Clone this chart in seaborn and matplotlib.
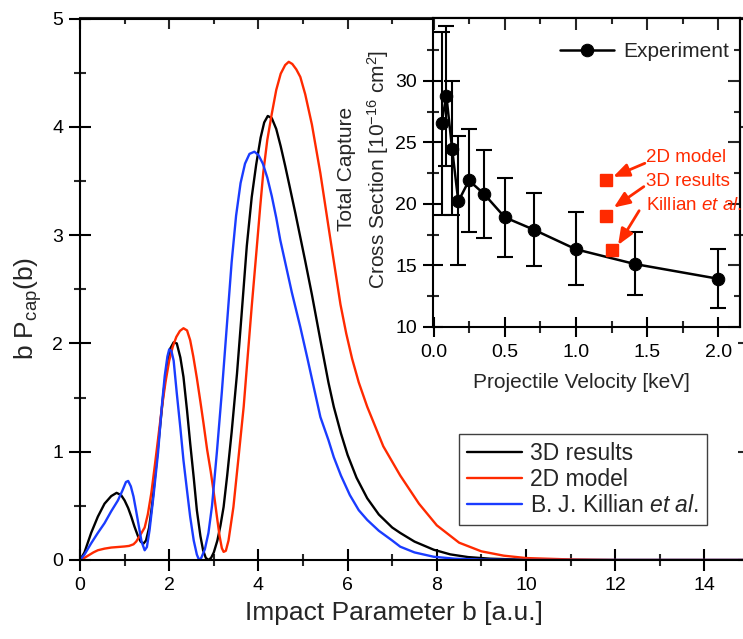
import numpy as np
import pandas as pd
import matplotlib
matplotlib.use("Agg")
import matplotlib.pyplot as plt
import seaborn as sns
from matplotlib.ticker import MultipleLocator, FixedLocator, FormatStrFormatter

sns.set_theme(style="ticks")
plt.rcParams['font.family'] = ['Liberation Sans', 'DejaVu Sans']
plt.rcParams['mathtext.fontset'] = 'custom'
plt.rcParams['mathtext.rm'] = 'Liberation Sans'
plt.rcParams['mathtext.it'] = 'Liberation Sans:italic'
plt.rcParams['mathtext.bf'] = 'Liberation Sans:bold'

# ---------------- main panel data: b P_cap(b) ----------------
b_3d = [0, 0.1, 0.25, 0.4, 0.55, 0.7, 0.82, 0.92, 1.0, 1.08, 1.15, 1.22, 1.30, 1.36, 1.42,
        1.48, 1.55, 1.62, 1.72, 1.8, 1.87, 1.95, 2.02, 2.1, 2.17, 2.25, 2.32, 2.4, 2.47,
        2.55, 2.62, 2.7, 2.76, 2.82, 2.88, 2.94, 3.0, 3.08, 3.15, 3.22, 3.3, 3.4, 3.52,
        3.62, 3.74, 3.85, 3.95, 4.05, 4.13, 4.21, 4.3, 4.4, 4.5, 4.6, 4.7, 4.83, 4.94,
        5.05, 5.2, 5.39, 5.57, 5.69, 5.85, 6.0, 6.2, 6.44, 6.7, 7.0, 7.18, 7.5, 7.93,
        8.3, 8.7, 9.2, 9.8, 10.5, 11.5, 13, 15]
p_3d = [0, 0.07, 0.25, 0.40, 0.52, 0.59, 0.62, 0.60, 0.55, 0.48, 0.40, 0.31, 0.22, 0.17, 0.15,
        0.18, 0.30, 0.52, 0.92, 1.25, 1.54, 1.80, 1.95, 2.01, 2.00, 1.87, 1.69, 1.38, 1.08,
        0.76, 0.46, 0.22, 0.09, 0.02, 0.0, 0.02, 0.07, 0.18, 0.32, 0.49, 0.78, 1.18, 1.72,
        2.25, 2.90, 3.35, 3.65, 3.90, 4.04, 4.10, 4.08, 3.98, 3.82, 3.64, 3.45, 3.20, 2.98,
        2.76, 2.45, 2.03, 1.64, 1.415, 1.17, 0.97, 0.76, 0.57, 0.42, 0.30, 0.25, 0.17, 0.095,
        0.052, 0.027, 0.012, 0.005, 0.002, 0.0, 0.0, 0.0]

b_2d = [0, 0.1, 0.2, 0.3, 0.4, 0.55, 0.7, 0.85, 1.0, 1.1, 1.2, 1.26, 1.32, 1.38, 1.45, 1.52,
        1.6, 1.68, 1.76, 1.84, 1.92, 2.0, 2.08, 2.16, 2.24, 2.32, 2.4, 2.47, 2.54, 2.62, 2.7,
        2.77, 2.85, 2.93, 3.0, 3.07, 3.13, 3.18, 3.22, 3.27, 3.33, 3.44, 3.55, 3.67, 3.76,
        3.85, 3.95, 4.04, 4.11, 4.2, 4.3, 4.4, 4.5, 4.6, 4.68, 4.76, 4.85, 4.94, 5.05, 5.2,
        5.39, 5.6, 5.84, 5.97, 6.1, 6.25, 6.44, 6.8, 7.18, 7.6, 8.0, 8.5, 9.0, 9.5, 10.0,
        11, 12, 15]
p_2d = [0, 0.02, 0.045, 0.07, 0.09, 0.105, 0.115, 0.12, 0.125, 0.13, 0.145, 0.17, 0.21, 0.25,
        0.30, 0.42, 0.62, 0.88, 1.15, 1.42, 1.65, 1.84, 1.97, 2.06, 2.115, 2.14, 2.12, 2.03,
        1.88, 1.68, 1.46, 1.26, 1.02, 0.82, 0.62, 0.40, 0.22, 0.11, 0.075, 0.085, 0.18, 0.49,
        0.93, 1.415, 1.88, 2.34, 2.82, 3.26, 3.58, 3.88, 4.12, 4.34, 4.49, 4.57, 4.60, 4.58,
        4.53, 4.46, 4.30, 4.02, 3.57, 3.00, 2.36, 2.09, 1.86, 1.64, 1.415, 1.05, 0.78, 0.52,
        0.32, 0.16, 0.08, 0.04, 0.018, 0.005, 0.0, 0.0]

b_kil = [0, 0.1, 0.25, 0.4, 0.55, 0.7, 0.85, 0.95, 1.03, 1.08, 1.14, 1.2, 1.26, 1.32, 1.38,
         1.45, 1.5, 1.56, 1.65, 1.75, 1.83, 1.9, 1.96, 2.0, 2.05, 2.1, 2.17, 2.25, 2.32, 2.4,
         2.47, 2.55, 2.62, 2.67, 2.72, 2.8, 2.88, 2.96, 3.07, 3.18, 3.29, 3.4, 3.5, 3.6, 3.7,
         3.8, 3.91, 4.0, 4.1, 4.2, 4.3, 4.4, 4.49, 4.6, 4.75, 4.94, 5.1, 5.25, 5.39, 5.57,
         5.69, 5.85, 6.05, 6.25, 6.44, 6.7, 7.0, 7.18, 7.5, 7.93, 8.4, 9.0, 10, 12, 15]
p_kil = [0, 0.05, 0.154, 0.25, 0.34, 0.45, 0.55, 0.64, 0.72, 0.73, 0.68, 0.585, 0.45, 0.31,
         0.17, 0.09, 0.12, 0.277, 0.60, 0.99, 1.40, 1.70, 1.88, 1.945, 1.93, 1.84, 1.54, 1.22,
         0.92, 0.64, 0.40, 0.18, 0.05, 0.0, 0.02, 0.10, 0.25, 0.50, 1.0, 1.55, 2.15, 2.75,
         3.18, 3.48, 3.66, 3.75, 3.77, 3.74, 3.66, 3.53, 3.36, 3.16, 2.955, 2.75, 2.47, 2.15,
         1.86, 1.58, 1.32, 1.108, 0.95, 0.78, 0.60, 0.46, 0.37, 0.27, 0.18, 0.123, 0.07, 0.03,
         0.012, 0.004, 0.0, 0.0, 0.0]

# ---------------- inset data: total capture cross section ----------------
velocity = [0.055, 0.089, 0.129, 0.173, 0.248, 0.354, 0.5, 0.703, 1.0, 1.414, 2.0]
cross_section = [26.55, 28.8, 24.5, 20.2, 21.9, 20.8, 18.9, 17.9, 16.3, 15.1, 13.9]
err_top = [34.0, 34.5, 30.0, 25.5, 26.1, 24.4, 22.1, 20.9, 19.3, 17.7, 16.3]
err_bottom = [19.1, 23.1, 19.1, 15.0, 17.7, 17.2, 15.7, 14.9, 13.4, 12.55, 11.55]

model_velocity = [1.21, 1.21, 1.25]
model_cross = [21.9, 19.0, 16.25]
model_labels = ["2D model", "3D results", r"Killian $\mathit{et\ al.}$"]
label_pos = [(1.49, 23.8), (1.49, 21.8), (1.49, 19.9)]
arrow_tail = [(1.484, 23.3), (1.477, 21.4), (1.444, 19.44)]
arrow_head = [(1.261, 22.2), (1.266, 19.7), (1.296, 16.65)]

inset_yticks = [10, 15, 20, 25, 30]
inset_yminor = [12.5, 17.5, 22.5, 27.5, 32.5]

RED = '#ff2a00'
BLUE = '#1a3cff'

W, H = 743, 639
fig = plt.figure(figsize=(W / 100, H / 100), dpi=100)

# ---------------- main axes ----------------
ax = fig.add_axes([80 / W, 1 - 560 / H, 669 / W, (560 - 18.5) / H])
ax.set_facecolor('white')
sns.lineplot(x=b_3d, y=p_3d, color='black', lw=1.7, label='3D results', ax=ax, sort=False)
sns.lineplot(x=b_2d, y=p_2d, color=RED, lw=1.7, label='2D model', ax=ax, sort=False)
sns.lineplot(x=b_kil, y=p_kil, color=BLUE, lw=1.7, label=r'B. J. Killian $\mathit{et\ al.}$',
             ax=ax, sort=False)
ax.set_xlim(0, 15)
ax.set_ylim(0, 5)
ax.xaxis.set_major_locator(MultipleLocator(2))
ax.xaxis.set_minor_locator(MultipleLocator(1))
ax.yaxis.set_major_locator(MultipleLocator(1))
ax.yaxis.set_minor_locator(MultipleLocator(0.5))
ax.tick_params(which='major', direction='inout', length=16, width=1.5, labelsize=14,
               pad=4, colors='black')
ax.tick_params(which='minor', direction='inout', length=9, width=1.5)
for s in ax.spines.values():
    s.set_linewidth(1.5)
    s.set_color('black')
secx = ax.secondary_xaxis('top')
secx.xaxis.set_major_locator(MultipleLocator(2))
secx.xaxis.set_minor_locator(MultipleLocator(1))
secx.tick_params(which='major', direction='in', length=8, width=1.5, labeltop=False)
secx.tick_params(which='minor', direction='in', length=4.5, width=1.5)
secx.spines['top'].set_linewidth(1.5)
secy = ax.secondary_yaxis('right')
secy.yaxis.set_major_locator(MultipleLocator(1))
secy.yaxis.set_minor_locator(MultipleLocator(0.5))
secy.tick_params(which='major', direction='in', length=8, width=1.5, labelright=False)
secy.tick_params(which='minor', direction='in', length=4.5, width=1.5)
secy.spines['right'].set_linewidth(1.5)

ax.set_xlabel('Impact Parameter b [a.u.]', fontsize=19)
ax.set_ylabel(r'b P$_{\mathrm{cap}}$(b)', fontsize=19)
ax.xaxis.set_label_coords(0.469, -0.075)
ax.yaxis.set_label_coords(-0.054, 0.465)

leg = ax.legend(loc='lower left', bbox_to_anchor=(0.5665, 0.0646), borderaxespad=0,
                fontsize=16.5, handlelength=2.4, handletextpad=0.35, labelspacing=0.12,
                borderpad=0.35, fancybox=False, framealpha=1, edgecolor='#404040')
leg.get_frame().set_linewidth(1.0)

# ---------------- inset ----------------
ax2 = fig.add_axes([433 / W, 1 - 326.7 / H, (740 - 433) / W, (326.7 - 18.3) / H])
ax2.set_facecolor('white')
ax2.errorbar(velocity, cross_section,
             yerr=[np.subtract(cross_section, err_bottom), np.subtract(err_top, cross_section)],
             fmt='none', ecolor='black', elinewidth=1.5, capsize=5.5, capthick=1.5)
sns.lineplot(x=velocity, y=cross_section, color='black', lw=1.8, marker='o', markersize=9,
             markeredgecolor='black', label='Experiment', ax=ax2)
ax2.plot(model_velocity, model_cross, linestyle='none', marker='s', markersize=8.5,
         color=RED, markeredgecolor=RED)
for lab, lp, tail, head in zip(model_labels, label_pos, arrow_tail, arrow_head):
    ax2.text(lp[0], lp[1], lab, color=RED, fontsize=13.5, ha='left', va='center',
             clip_on=False)
    ax2.annotate('', xy=head, xytext=tail,
                 arrowprops=dict(arrowstyle='-|>,head_length=0.8,head_width=0.33',
                                 color=RED, lw=2.0, shrinkA=0, shrinkB=0))
ax2.set_xlim(-0.005, 2.153)
ax2.set_ylim(10, 35.1)
ax2.xaxis.set_major_locator(MultipleLocator(0.5))
ax2.xaxis.set_minor_locator(MultipleLocator(0.25))
ax2.yaxis.set_major_locator(FixedLocator(inset_yticks))
ax2.yaxis.set_minor_locator(FixedLocator(inset_yminor))
ax2.xaxis.set_major_formatter(FormatStrFormatter('%.1f'))
ax2.tick_params(which='major', direction='inout', length=15, width=1.5, labelsize=14,
                colors='black')
ax2.tick_params(axis='x', which='major', pad=5)
ax2.tick_params(axis='y', which='major', pad=4)
ax2.tick_params(which='minor', direction='inout', length=8.5, width=1.5)
for s in ax2.spines.values():
    s.set_linewidth(1.5)
    s.set_color('black')
sx2 = ax2.secondary_xaxis('top')
sx2.xaxis.set_major_locator(MultipleLocator(0.5))
sx2.xaxis.set_minor_locator(MultipleLocator(0.25))
sx2.tick_params(which='major', direction='in', length=8.4, width=1.5, labeltop=False)
sx2.tick_params(which='minor', direction='in', length=4.3, width=1.5)
sx2.spines['top'].set_linewidth(1.5)
sy2 = ax2.secondary_yaxis('right')
sy2.yaxis.set_major_locator(FixedLocator(inset_yticks))
sy2.yaxis.set_minor_locator(FixedLocator(inset_yminor))
sy2.tick_params(which='major', direction='in', length=8.4, width=1.5, labelright=False)
sy2.tick_params(which='minor', direction='in', length=4.3, width=1.5)
sy2.spines['right'].set_linewidth(1.5)

ax2.set_xlabel('Projectile Velocity [keV]', fontsize=15)
ax2.set_ylabel('Total Capture\nCross Section [10$^{-16}$ cm$^{2}$]', fontsize=15,
               linespacing=1.45)
ax2.xaxis.set_label_coords(0.485, -0.150)
ax2.yaxis.set_label_coords(-0.137, 0.51)
leg2 = ax2.legend(loc='center right', bbox_to_anchor=(0.963, 0.892), borderaxespad=0,
                  borderpad=0, frameon=False, fontsize=15, handlelength=2.6,
                  handletextpad=0.4)

fig.savefig('out.png', dpi=100)
